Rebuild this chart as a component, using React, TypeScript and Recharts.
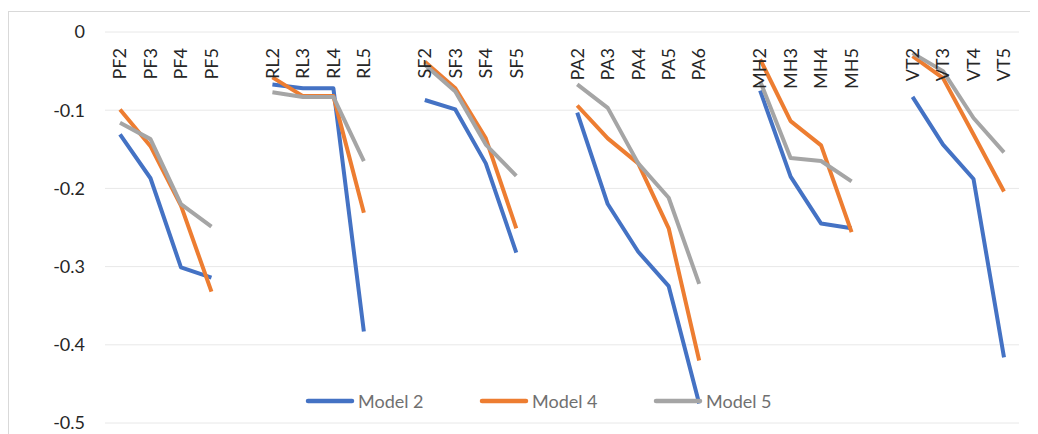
import React from "react";
import {
  LineChart,
  Line,
  XAxis,
  YAxis,
  CartesianGrid,
  Legend,
} from "recharts";

// blank entries are the gaps between groups
const categories = [
  "PF2", "PF3", "PF4", "PF5", "",
  "RL2", "RL3", "RL4", "RL5", "",
  "SF2", "SF3", "SF4", "SF5", "",
  "PA2", "PA3", "PA4", "PA5", "PA6", "",
  "MH2", "MH3", "MH4", "MH5", "",
  "VT2", "VT3", "VT4", "VT5",
];

const model2 = [
  -0.131, -0.187, -0.301, -0.314, null,
  -0.067, -0.072, -0.072, -0.383, null,
  -0.087, -0.099, -0.168, -0.282, null,
  -0.103, -0.22, -0.281, -0.325, -0.475, null,
  -0.075, -0.185, -0.245, -0.251, null,
  -0.083, -0.144, -0.188, -0.416,
];

const model4 = [
  -0.099, -0.146, -0.222, -0.332, null,
  -0.058, -0.082, -0.082, -0.231, null,
  -0.038, -0.072, -0.136, -0.251, null,
  -0.094, -0.136, -0.168, -0.251, -0.42, null,
  -0.035, -0.114, -0.145, -0.256, null,
  -0.031, -0.059, -0.131, -0.204,
];

const model5 = [
  -0.116, -0.137, -0.22, -0.249, null,
  -0.077, -0.083, -0.083, -0.165, null,
  -0.042, -0.076, -0.144, -0.184, null,
  -0.067, -0.097, -0.168, -0.212, -0.322, null,
  -0.063, -0.161, -0.165, -0.191, null,
  -0.027, -0.05, -0.11, -0.154,
];

const yTicks = [0, -0.1, -0.2, -0.3, -0.4, -0.5];

const series = [
  { key: "model2", name: "Model 2", color: "#4472C4" },
  { key: "model4", name: "Model 4", color: "#ED7D31" },
  { key: "model5", name: "Model 5", color: "#A5A5A5" },
];

const data = categories.map((cat, i) => ({
  cat,
  model2: model2[i],
  model4: model4[i],
  model5: model5[i],
}));

const FONT = "Lato, 'Open Sans', sans-serif";

// axis sits on top (height 24), labels hang down into the plot, rotated
const CatTick = (props: any) => {
  const { x, y, payload } = props;
  if (!payload || !payload.value) return <g />;
  const ty = y + 16;
  return (
    <text
      x={x}
      y={ty}
      dy="0.35em"
      transform={`rotate(-90 ${x} ${ty})`}
      textAnchor="end"
      fill="#262626"
      fontSize={18}
      fontFamily={FONT}
    >
      {payload.value}
    </text>
  );
};

const renderLegend = () => (
  <div style={{ display: "flex", fontFamily: FONT, fontSize: 18, color: "#707070" }}>
    {series.map((s) => (
      <div key={s.key} style={{ display: "flex", alignItems: "center", width: 174 }}>
        <svg width={50} height={8} style={{ marginRight: 3 }}>
          <line x1={3} y1={4} x2={47} y2={4} stroke={s.color} strokeWidth={4.5} strokeLinecap="round" />
        </svg>
        <span>{s.name}</span>
      </div>
    ))}
  </div>
);

const App = () => {
  return (
    <div style={{ position: "relative", width: 1030, height: 426 }}>
      <div
        style={{
          position: "absolute",
          top: 3,
          left: 0,
          width: 1030,
          height: 423,
          borderTop: "1px solid #d9d9d9",
          borderLeft: "1px solid #d9d9d9",
          boxSizing: "border-box",
        }}
      />
      <LineChart
        width={1030}
        height={426}
        data={data}
        margin={{ top: 0, right: 19, bottom: 11, left: 0 }}
      >
        <CartesianGrid vertical={false} stroke="#e8e8e8" />
        <XAxis
          dataKey="cat"
          orientation="top"
          height={24}
          axisLine={false}
          tickLine={false}
          tickSize={0}
          tickMargin={0}
          interval={0}
          padding={{ left: 15, right: 15 }}
          tick={<CatTick />}
        />
        <YAxis
          width={97}
          domain={[-0.5, 0]}
          ticks={yTicks}
          axisLine={false}
          tickLine={false}
          tickSize={0}
          tickMargin={20}
          tickFormatter={(v: number) => (v === 0 ? "0" : v.toFixed(1))}
          tick={{ fill: "#262626", fontSize: 18, fontFamily: FONT }}
        />
        <Legend
          verticalAlign="middle"
          layout="horizontal"
          content={renderLegend}
          wrapperStyle={{ top: 382, left: 297, width: 540 }}
        />
        {series.map((s) => (
          <Line
            key={s.key}
            type="linear"
            dataKey={s.key}
            name={s.name}
            stroke={s.color}
            strokeWidth={4}
            strokeLinejoin="round"
            dot={false}
            activeDot={false}
            isAnimationActive={false}
          />
        ))}
      </LineChart>
    </div>
  );
};

export default App;
